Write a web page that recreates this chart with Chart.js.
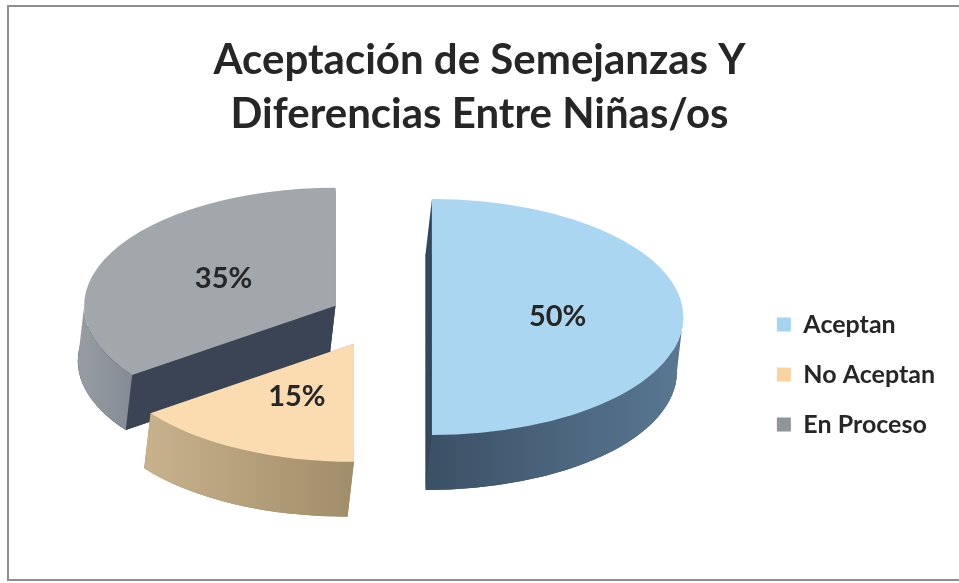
<!DOCTYPE html>
<html>
<head>
<meta charset="utf-8">
<script src="https://cdn.jsdelivr.net/npm/chart.js@4.4.0/dist/chart.umd.min.js"></script>
<style>
  html, body { margin: 0; padding: 0; background: #fff; }
  #wrap { position: relative; width: 959px; height: 583px; overflow: hidden; }
  #frame { position: absolute; left: 7px; top: 5px; width: 980px; height: 572px;
           border: 2px solid #8e8e8e; border-right: none; }
  #chart { position: absolute; left: 0; top: 0; }
</style>
</head>
<body>
<div id="wrap">
  <div id="frame"></div>
  <canvas id="chart" width="959" height="583"></canvas>
</div>
<script>
// data
const categories = ['Aceptan', 'No Aceptan', 'En Proceso'];
const percents = [50, 15, 35];
const explode = [23, 30, 25]; // how far each slice is pulled out

// colours
const topColors = ['#abd6f1', '#fbdbb0', '#a2a7ac'];
const legendColors = ['#a5d3f0', '#f9d3a0', '#909599'];
const cutColors = ['#34485b', '#9c8a66', '#3a4454'];
const rimColors = [['#3b5166', '#5a7892'], ['#c6b18b', '#a08d69'], ['#959ba1', '#848b93']];

const STRETCH = 2.13; // pie is drawn as a circle, then widened into a tilted ellipse
const DEPTH = 55;
const SLANT = -3;

function sliceGeom(el) {
  const p = el.getProps(['x', 'y', 'startAngle', 'endAngle', 'outerRadius'], true);
  return {x: p.x, y: p.y, r: p.outerRadius, a0: p.startAngle, a1: p.endAngle,
          mid: (p.startAngle + p.endAngle) / 2};
}

function drawSide(ctx, g, i) {
  // bottom of the slice
  ctx.fillStyle = cutColors[i];
  ctx.beginPath();
  ctx.moveTo(g.x + SLANT, g.y + DEPTH);
  ctx.arc(g.x + SLANT, g.y + DEPTH, g.r, g.a0, g.a1);
  ctx.closePath();
  ctx.fill();
  // cut faces
  [g.a0, g.a1].forEach(a => {
    const ex = g.x + Math.cos(a) * g.r, ey = g.y + Math.sin(a) * g.r;
    ctx.beginPath();
    ctx.moveTo(g.x, g.y);
    ctx.lineTo(ex, ey);
    ctx.lineTo(ex + SLANT, ey + DEPTH);
    ctx.lineTo(g.x + SLANT, g.y + DEPTH);
    ctx.closePath();
    ctx.fill();
  });
  // outer rim, front half only
  const s = Math.max(g.a0, 0), e = Math.min(g.a1, Math.PI);
  if (e > s) {
    const xa = g.x + Math.cos(e) * g.r, xb = g.x + Math.cos(s) * g.r;
    const grad = ctx.createLinearGradient(Math.min(xa, xb), 0, Math.max(xa, xb), 0);
    grad.addColorStop(0, rimColors[i][0]);
    grad.addColorStop(1, rimColors[i][1]);
    ctx.fillStyle = grad;
    ctx.beginPath();
    ctx.arc(g.x, g.y, g.r, s, e);
    ctx.arc(g.x + SLANT, g.y + DEPTH, g.r, e, s, true);
    ctx.closePath();
    ctx.fill();
  }
}

const tiltPlugin = {
  id: 'tilt',
  afterDatasetsUpdate(chart) {
    // pull the slices apart along their middle angle
    chart.getDatasetMeta(0).data.forEach((el, i) => {
      const mid = (el.startAngle + el.endAngle) / 2;
      el.x += Math.cos(mid) * explode[i];
      el.y += Math.sin(mid) * explode[i];
    });
  },
  beforeDatasetsDraw(chart) {
    const ctx = chart.ctx;
    const cx = (chart.chartArea.left + chart.chartArea.right) / 2;
    ctx.save();
    ctx.translate(cx, 0);
    ctx.scale(STRETCH, 1);
    ctx.translate(-cx, 0);
    const arcs = chart.getDatasetMeta(0).data;
    // back slices first
    [2, 1, 0].forEach(i => drawSide(ctx, sliceGeom(arcs[i]), i));
  },
  afterDatasetsDraw(chart) {
    const ctx = chart.ctx;
    ctx.restore();
    const cx = (chart.chartArea.left + chart.chartArea.right) / 2;
    const arcs = chart.getDatasetMeta(0).data;
    ctx.save();
    ctx.font = 'bold 29px Lato';
    ctx.fillStyle = '#262626';
    ctx.textAlign = 'center';
    ctx.textBaseline = 'middle';
    arcs.forEach((el, i) => {
      const g = sliceGeom(el);
      const lx = g.x + Math.cos(g.mid) * g.r * 0.5;
      const ly = g.y + Math.sin(g.mid) * g.r * 0.5;
      ctx.fillText(percents[i] + '%', cx + (lx - cx) * STRETCH, ly);
    });
    ctx.restore();
  }
};

new Chart(document.getElementById('chart'), {
  type: 'pie',
  data: {
    labels: categories,
    datasets: [{
      data: percents,
      backgroundColor: topColors,
      borderWidth: 0,
      clip: false
    }]
  },
  options: {
    responsive: false,
    animation: false,
    events: [],
    radius: 118,
    layout: { padding: { top: 0, bottom: 121, left: 14, right: 14 } },
    plugins: {
      tooltip: { enabled: false },
      title: {
        display: true,
        text: ['Aceptación de Semejanzas Y', 'Diferencias Entre Niñas/os'],
        color: '#262626',
        font: { family: 'Lato', size: 42, weight: 'bold', lineHeight: 1.3 },
        padding: { top: 33, bottom: 30 }
      },
      legend: {
        position: 'right',
        align: 'end',
        labels: {
          color: '#262626',
          font: { family: 'Lato', size: 25, weight: 'bold' },
          boxWidth: 14,
          boxHeight: 14,
          padding: 25,
          generateLabels(chart) {
            return categories.map((c, i) => ({
              text: c, fillStyle: legendColors[i], strokeStyle: legendColors[i],
              lineWidth: 0, index: i, fontColor: '#262626'
            }));
          }
        }
      }
    }
  },
  plugins: [tiltPlugin]
});
</script>
</body>
</html>
